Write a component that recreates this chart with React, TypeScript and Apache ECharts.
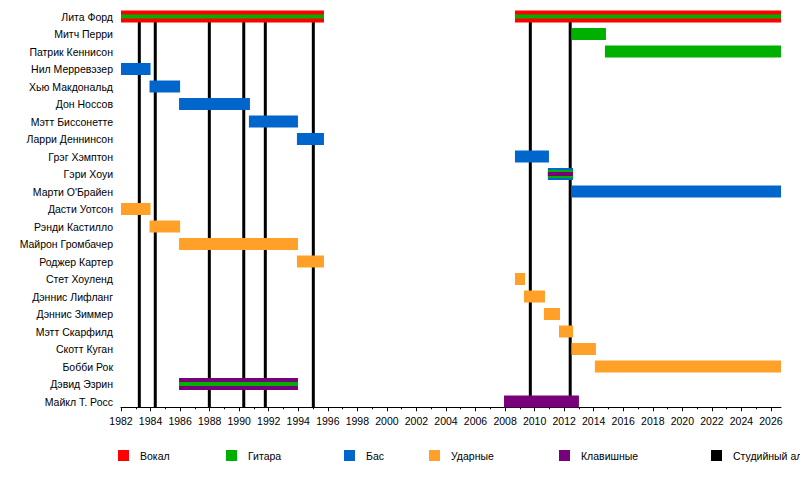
import React, { useEffect, useRef } from "react";
import * as echarts from "echarts";

const members = [
  "Лита Форд",
  "Митч Перри",
  "Патрик Кеннисон",
  "Нил Мерревэзер",
  "Хью Макдональд",
  "Дон Носсов",
  "Мэтт Биссонетте",
  "Ларри Деннинсон",
  "Грэг Хэмптон",
  "Гэри Хоуи",
  "Марти О'Брайен",
  "Дасти Уотсон",
  "Рэнди Кастилло",
  "Майрон Громбачер",
  "Роджер Картер",
  "Стет Хоуленд",
  "Дэннис Лифланг",
  "Дэннис Зиммер",
  "Мэтт Скарфилд",
  "Скотт Куган",
  "Бобби Рок",
  "Дэвид Эзрин",
  "Майкл Т. Росс",
];

const startYear = 1982;
const endYear = 2026.68;
const tickYears = [
  1982, 1984, 1986, 1988, 1990, 1992, 1994, 1996, 1998, 2000, 2002, 2004,
  2006, 2008, 2010, 2012, 2014, 2016, 2018, 2020, 2022, 2024, 2026,
];

const albumYears = [1983.24, 1984.32, 1987.98, 1990.31, 1991.77, 1995.02, 2009.71, 2012.41];

// [member row, start, end, layer (0 = main bar, 1 = second stripe, 2 = inner stripe)]
const vocals = [
  [0, 1982, 1995.74, 0],
  [0, 2008.67, 2026.68, 0],
];
const guitar = [
  [0, 1982, 1995.74, 2],
  [0, 2008.67, 2026.68, 2],
  [1, 2012.51, 2014.83, 0],
  [2, 2014.76, 2026.68, 0],
  [9, 2010.9, 2012.6, 1],
  [21, 1985.93, 1993.98, 2],
];
const bass = [
  [3, 1982, 1984.0, 0],
  [4, 1983.93, 1986.0, 0],
  [5, 1985.93, 1990.73, 0],
  [6, 1990.66, 1993.98, 0],
  [7, 1993.91, 1995.74, 0],
  [8, 2008.67, 2010.97, 0],
  [9, 2010.9, 2012.6, 0],
  [10, 2012.51, 2026.68, 0],
];
const drums = [
  [11, 1982, 1984.0, 0],
  [12, 1983.93, 1986.0, 0],
  [13, 1985.93, 1993.98, 0],
  [14, 1993.91, 1995.74, 0],
  [15, 2008.67, 2009.35, 0],
  [16, 2009.28, 2010.7, 0],
  [17, 2010.63, 2011.72, 0],
  [18, 2011.65, 2012.6, 0],
  [19, 2012.5, 2014.15, 0],
  [20, 2014.08, 2026.68, 0],
];
const keyboards = [
  [9, 2010.9, 2012.6, 2],
  [21, 1985.93, 1993.98, 0],
  [22, 2007.93, 2013.0, 0],
];

const legendNames = ["Вокал", "Гитара", "Бас", "Ударные", "Клавишные", "Студийный альбом"];

const COLORS = {
  vocals: "#FF0000",
  guitar: "#00B000",
  bass: "#0066CC",
  drums: "#FFA028",
  keyboards: "#780078",
  album: "#000000",
};
const legendColors = [COLORS.vocals, COLORS.guitar, COLORS.bass, COLORS.drums, COLORS.keyboards, COLORS.album];
const legendX = [118, 226, 344, 429, 559, 711];
const layerHeights = [12, 8, 4];
const FONT = "'Liberation Sans', Arial, sans-serif";

function barSeries(name: string, data: number[][], color: string) {
  return {
    type: "custom",
    name,
    data,
    encode: { x: [1, 2], y: 0 },
    z: 3,
    renderItem: (params: any, api: any) => {
      const row = api.value(0);
      const s = api.coord([api.value(1), row]);
      const e = api.coord([api.value(2), row]);
      const h = layerHeights[api.value(3)];
      return {
        type: "rect",
        z2: 10 + api.value(3),
        shape: { x: s[0], y: s[1] - h / 2, width: e[0] - s[0], height: h },
        style: { fill: color },
      };
    },
  };
}

export default function App() {
  const ref = useRef<HTMLDivElement>(null);
  useEffect(() => {
    if (!ref.current) return;
    const chart = echarts.init(ref.current, null, { renderer: "svg" });
    const legendGraphics: any[] = [];
    legendNames.forEach((n, i) => {
      legendGraphics.push({
        type: "rect",
        left: legendX[i],
        top: 450,
        shape: { width: 11, height: 11 },
        style: { fill: legendColors[i] },
      });
      legendGraphics.push({
        type: "text",
        left: legendX[i] + 22,
        top: 450,
        style: { text: n, fill: "#000", font: `10.5px ${FONT}` },
      });
    });

    chart.setOption({
      animation: false,
      backgroundColor: "#fff",
      textStyle: { fontFamily: FONT },
      grid: { left: 121, right: 19, top: 7.75, bottom: 85.75, containLabel: false },
      xAxis: {
        type: "value",
        min: startYear,
        max: endYear,
        interval: 2,
        offset: -3,
        axisLine: { show: true, lineStyle: { color: "#000", width: 1 } },
        axisTick: { show: true, length: 4, lineStyle: { color: "#000" }, customValues: tickYears },
        minorTick: { show: true, splitNumber: 2, length: 2, lineStyle: { color: "#000" } },
        splitLine: { show: false },
        axisLabel: {
          customValues: tickYears,
          color: "#000",
          fontSize: 10.5,
          fontFamily: FONT,
          margin: 8,
          formatter: (v: number) => String(Math.round(v)),
        },
      },
      yAxis: {
        type: "category",
        inverse: true,
        data: members,
        axisLine: { show: false },
        axisTick: { show: false },
        splitLine: { show: false },
        axisLabel: { color: "#000", fontSize: 10.5, fontFamily: FONT, margin: 8 },
      },
      series: [
        {
          type: "custom",
          name: "albums",
          data: albumYears.map((y) => [y, 0]),
          encode: { x: 0, y: 1 },
          z: 1,
          renderItem: (params: any, api: any) => {
            const p = api.coord([api.value(0), 0]);
            const bottom = api.coord([api.value(0), members.length - 1])[1] + 6;
            return {
              type: "line",
              shape: { x1: p[0], y1: p[1], x2: p[0], y2: bottom },
              style: { stroke: COLORS.album, lineWidth: 3 },
            };
          },
        },
        barSeries("Бас", bass, COLORS.bass),
        barSeries("Ударные", drums, COLORS.drums),
        barSeries("Вокал", vocals, COLORS.vocals),
        barSeries("Клавишные", keyboards.filter((d) => d[3] === 0), COLORS.keyboards),
        barSeries("Гитара", guitar, COLORS.guitar),
        barSeries("Клавишные2", keyboards.filter((d) => d[3] !== 0), COLORS.keyboards),
      ],
      graphic: legendGraphics,
    });
    return () => chart.dispose();
  }, []);
  return (
    <div
      ref={ref}
      style={{ position: "fixed", left: 0, top: 0, width: 800, height: 496 }}
    />
  );
}
